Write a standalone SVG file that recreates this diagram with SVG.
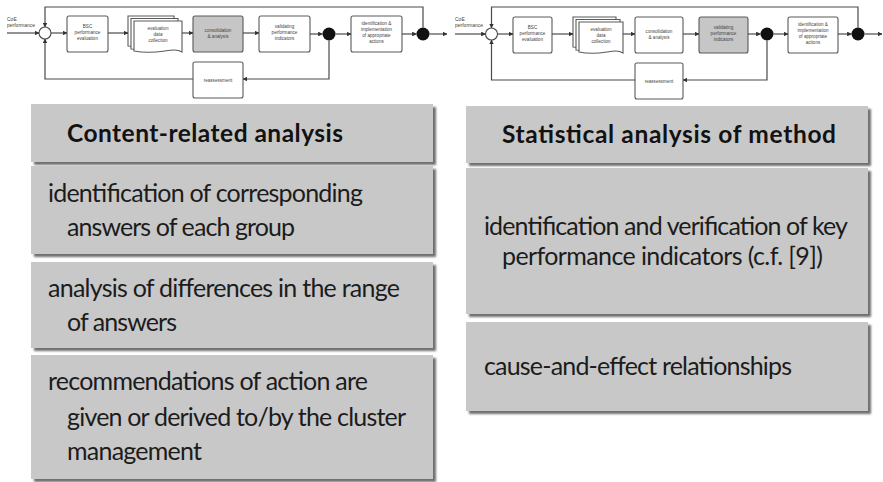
<svg xmlns="http://www.w3.org/2000/svg" width="883" height="482" viewBox="0 0 883 482">
  <defs>
    <marker id="arr" viewBox="0 0 6 6" refX="5.5" refY="3" markerWidth="4" markerHeight="4" orient="auto">
      <path d="M0,0 L6,3 L0,6 z" fill="#333"/>
    </marker>
    <filter id="shadow" x="-5%" y="-5%" width="112%" height="120%">
      <feDropShadow dx="3" dy="3" stdDeviation="1.3" flood-color="#555" flood-opacity="0.85"/>
    </filter>
    <style>
      .box { fill: #ffffff; stroke: #5a5a5a; stroke-width: 1.1; }
      .boxg { fill: #c6c6c6; stroke: #5a5a5a; stroke-width: 1.1; }
      .lbl { font-family: "Liberation Sans", Arial, sans-serif; font-size: 4.6px; fill: #444; text-anchor: middle; }
      .in { font-family: "Liberation Sans", Arial, sans-serif; font-size: 5px; fill: #444; }
      .la { fill: none; stroke: #4a4a4a; stroke-width: 1.2; marker-end: url(#arr); }
      .dot { fill: #111; }
      .sum { fill: #fff; stroke: #4a4a4a; stroke-width: 1.1; }
      .card { fill: #c8c8c8; filter: url(#shadow); }
      .t { font-family: Lato, "Open Sans", sans-serif; font-size: 25px; fill: #1c1c1c; }
      .h { font-family: Lato, "Open Sans", sans-serif; font-size: 24.5px; font-weight: bold; fill: #121212; }
    </style>
  </defs>

  <rect width="883" height="482" fill="#ffffff"/>

  <!-- left control loop -->
  <g id="loop-a">
    <g id="a-input">
      <text class="in" x="7" y="21">CoE</text>
      <text class="in" x="7" y="27">performance</text>
    </g>
    <circle id="a-sum" class="sum" cx="45" cy="33" r="6"/>
    <g id="a-bsc">
      <rect class="box" x="67" y="16" width="41" height="36" rx="2"/>
      <text class="lbl" x="87.5" y="28">BSC</text>
      <text class="lbl" x="87.5" y="34">performance</text>
      <text class="lbl" x="87.5" y="40">evaluation</text>
    </g>
    <g id="a-data">
      <path class="box" d="M128,16 h46 v28 c-10,-5 -20,6 -46,2 z"/>
      <path class="box" d="M131,18.5 h47 v28.5 c-10,-5 -20,6 -47,2 z"/>
      <path class="box" d="M134,21 h48 v31 c-10,-6 -22,4 -48,-1 z"/>
      <text class="lbl" x="158" y="30">evaluation</text>
      <text class="lbl" x="158" y="36">data</text>
      <text class="lbl" x="158" y="42">collection</text>
    </g>
    <g id="a-consolidation">
      <rect class="boxg" x="193" y="16" width="50" height="36" rx="2"/>
      <text class="lbl" x="218" y="32">consolidation</text>
      <text class="lbl" x="218" y="38">&amp; analysis</text>
    </g>
    <g id="a-validating">
      <rect class="box" x="259" y="16" width="51" height="36" rx="2"/>
      <text class="lbl" x="284.5" y="28">validating</text>
      <text class="lbl" x="284.5" y="34">performance</text>
      <text class="lbl" x="284.5" y="40">indicators</text>
    </g>
    <circle id="a-split1" class="dot" cx="329" cy="34" r="6.5"/>
    <g id="a-actions">
      <rect class="box" x="351" y="16" width="51" height="36" rx="2"/>
      <text class="lbl" x="376.5" y="25">identification &amp;</text>
      <text class="lbl" x="376.5" y="31">implementation</text>
      <text class="lbl" x="376.5" y="37">of appropriate</text>
      <text class="lbl" x="376.5" y="43">actions</text>
    </g>
    <circle id="a-split2" class="dot" cx="423" cy="34" r="6.5"/>
    <g id="a-reassessment">
      <rect class="box" x="193" y="62" width="50" height="36" rx="2"/>
      <text class="lbl" x="218" y="81.5">reassessment</text>
    </g>
  </g>

  <!-- right control loop -->
  <g id="loop-b">
    <g id="b-input">
      <text class="in" x="455" y="21">CoE</text>
      <text class="in" x="455" y="27">performance</text>
    </g>
    <circle id="b-sum" class="sum" cx="491.5" cy="34" r="6"/>
    <g id="b-bsc">
      <rect class="box" x="513" y="17" width="39" height="36" rx="2"/>
      <text class="lbl" x="532.5" y="29">BSC</text>
      <text class="lbl" x="532.5" y="35">performance</text>
      <text class="lbl" x="532.5" y="41">evaluation</text>
    </g>
    <g id="b-data">
      <path class="box" d="M573,17 h43 v28 c-10,-5 -18,6 -43,2 z"/>
      <path class="box" d="M576,19.5 h44 v28.5 c-10,-5 -18,6 -44,2 z"/>
      <path class="box" d="M579,22 h44 v31 c-10,-6 -20,4 -44,-1 z"/>
      <text class="lbl" x="601" y="31">evaluation</text>
      <text class="lbl" x="601" y="37">data</text>
      <text class="lbl" x="601" y="43">collection</text>
    </g>
    <g id="b-consolidation">
      <rect class="box" x="635" y="17" width="48" height="36" rx="2"/>
      <text class="lbl" x="659" y="33">consolidation</text>
      <text class="lbl" x="659" y="39">&amp; analysis</text>
    </g>
    <g id="b-validating">
      <rect class="boxg" x="699" y="17" width="49" height="36" rx="2"/>
      <text class="lbl" x="723.5" y="29">validating</text>
      <text class="lbl" x="723.5" y="35">performance</text>
      <text class="lbl" x="723.5" y="41">indicators</text>
    </g>
    <circle id="b-split1" class="dot" cx="767" cy="34" r="6.5"/>
    <g id="b-actions">
      <rect class="box" x="788" y="17" width="50" height="36" rx="2"/>
      <text class="lbl" x="813" y="26">identification &amp;</text>
      <text class="lbl" x="813" y="32">implementation</text>
      <text class="lbl" x="813" y="38">of appropriate</text>
      <text class="lbl" x="813" y="44">actions</text>
    </g>
    <circle id="b-split2" class="dot" cx="858" cy="34" r="6.5"/>
    <g id="b-reassessment">
      <rect class="box" x="635" y="63" width="48" height="36" rx="2"/>
      <text class="lbl" x="659" y="82.5">reassessment</text>
    </g>
  </g>

  <!-- connectors -->
  <g id="connectors">
    <!-- left loop -->
    <path class="la" d="M7,33 H39"/>
    <path class="la" d="M51,33 H67"/>
    <path class="la" d="M108,33 H128"/>
    <path class="la" d="M182,33 H193"/>
    <path class="la" d="M243,33 H259"/>
    <path class="la" d="M310,34 H322.5"/>
    <path class="la" d="M335.5,34 H351"/>
    <path class="la" d="M402,34 H416.5"/>
    <path class="la" d="M429.5,34 H447"/>
    <path class="la" d="M423,27.5 V7 H45 V27"/>
    <path class="la" d="M329,40.5 V79 H243"/>
    <path class="la" d="M193,79 H45 V39"/>
    <!-- right loop -->
    <path class="la" d="M455,34 H485.5"/>
    <path class="la" d="M497.5,34 H513"/>
    <path class="la" d="M552,34 H573"/>
    <path class="la" d="M623,34 H635"/>
    <path class="la" d="M683,34 H699"/>
    <path class="la" d="M748,34 H760.5"/>
    <path class="la" d="M773.5,34 H788"/>
    <path class="la" d="M838,34 H851.5"/>
    <path class="la" d="M864.5,34 H882"/>
    <path class="la" d="M858,27.5 V7 H491.5 V28"/>
    <path class="la" d="M767,40.5 V80 H683"/>
    <path class="la" d="M635,80 H491.5 V40"/>
  </g>

  <!-- content-related analysis column -->
  <g id="content-header">
    <rect class="card" x="31" y="104" width="402" height="58"/>
    <text class="h" x="67" y="142" textLength="276">Content-related analysis</text>
  </g>
  <g id="content-item1">
    <rect class="card" x="31" y="166" width="402" height="88"/>
    <text class="t" x="48" y="202" textLength="315">identification of corresponding</text>
    <text class="t" x="67" y="236" textLength="228">answers of each group</text>
  </g>
  <g id="content-item2">
    <rect class="card" x="31" y="262" width="402" height="86"/>
    <text class="t" x="48" y="297" textLength="352">analysis of differences in the range</text>
    <text class="t" x="67" y="331" textLength="110">of answers</text>
  </g>
  <g id="content-item3">
    <rect class="card" x="31" y="355" width="402" height="124"/>
    <text class="t" x="48" y="390" textLength="320">recommendations of action are</text>
    <text class="t" x="67" y="426" textLength="339">given or derived to/by the cluster</text>
    <text class="t" x="67" y="460" textLength="135">management</text>
  </g>

  <!-- statistical analysis column -->
  <g id="stat-header">
    <rect class="card" x="466" y="106" width="402" height="57"/>
    <text class="h" x="502" y="143" textLength="334">Statistical analysis of method</text>
  </g>
  <g id="stat-item1">
    <rect class="card" x="466" y="168" width="402" height="146"/>
    <text class="t" x="484" y="235" textLength="364">identification and verification of key</text>
    <text class="t" x="502" y="265" textLength="321">performance indicators (c.f. [9])</text>
  </g>
  <g id="stat-item2">
    <rect class="card" x="466" y="322" width="402" height="89"/>
    <text class="t" x="484" y="375" textLength="308">cause-and-effect relationships</text>
  </g>
</svg>
